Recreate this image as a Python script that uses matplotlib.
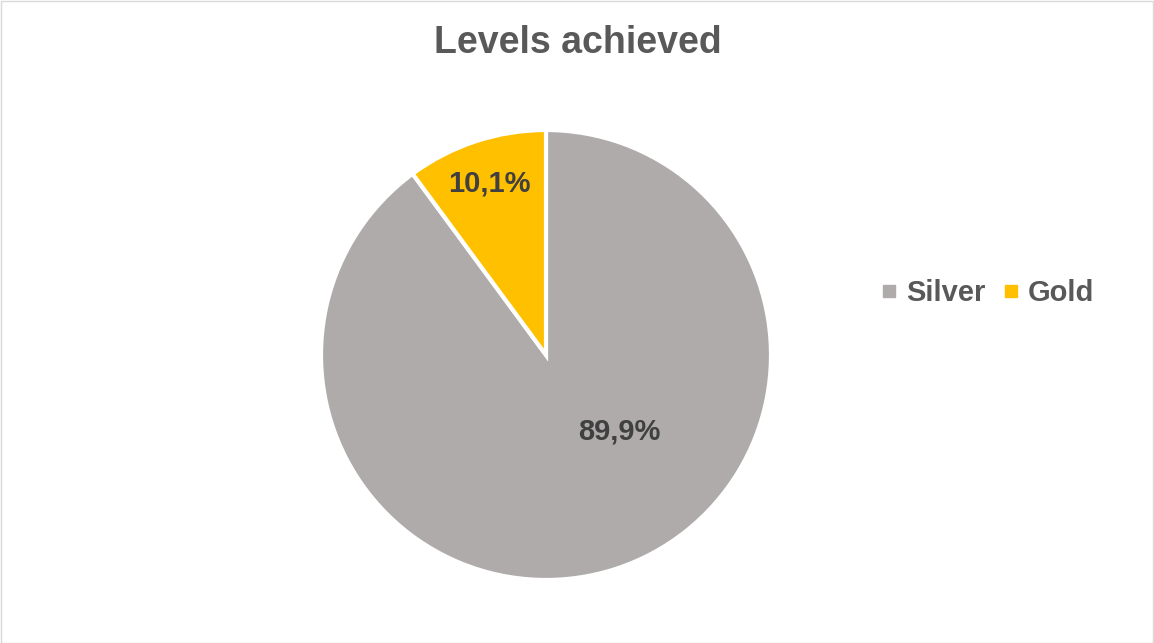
import numpy as np
import matplotlib.pyplot as plt
from matplotlib.lines import Line2D
from matplotlib.patches import Rectangle

plt.rcParams['font.family'] = ['Liberation Sans', 'DejaVu Sans']

levels = ["Silver", "Gold"]
shares = [89.9, 10.1]
colors = ["#AFABAB", "#FFC000"]

W, H = 1154, 643
fig = plt.figure(figsize=(W / 100, H / 100), dpi=100)

# pie centre and radius in pixels
cx, cy, r = 546, 355, 225
ax = fig.add_axes([(cx - r) / W, (H - cy - r) / H, 2 * r / W, 2 * r / H])

wedges, texts, autotexts = ax.pie(
    shares, colors=colors, startangle=90, counterclock=False,
    autopct=lambda p: f"{p:.1f}%".replace(".", ","), pctdistance=0.8,
    wedgeprops=dict(edgecolor="white", linewidth=3),
    textprops=dict(fontsize=21, fontweight="bold", color="#404040"))
ax.set_xlim(-1, 1)
ax.set_ylim(-1, 1)
ax.set_aspect("equal")

# the big slice label sits off-centre, lower right
ang = np.deg2rad(-46)
autotexts[0].set_position((0.47 * np.cos(ang), 0.47 * np.sin(ang)))

fig.text(578 / W, 1 - 43 / H, "Levels achieved", ha="center", va="center",
         fontsize=27, fontweight="bold", color="#595959")

handles = [Line2D([], [], marker="s", linestyle="none", markersize=8,
                  markerfacecolor=c, markeredgecolor=c) for c in colors]
leg = fig.legend(handles, levels, loc="center", bbox_to_anchor=(988 / W, 1 - 293 / H),
                 ncol=2, frameon=False, handlelength=0.5, handletextpad=0.35,
                 columnspacing=0.6, prop=dict(size=21, weight="bold"))
for t in leg.get_texts():
    t.set_color("#595959")

fig.patches.append(Rectangle((0.5 / W, 0.5 / H), 1 - 1.5 / W, 1 - 1.5 / H,
                             transform=fig.transFigure, fill=False,
                             edgecolor="#D9D9D9", linewidth=1))

fig.savefig("out.png", dpi=100)
